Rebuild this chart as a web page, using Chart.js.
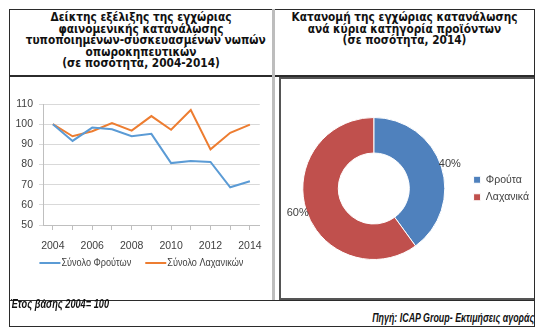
<!DOCTYPE html>
<html>
<head>
<meta charset="utf-8">
<script src="https://cdn.jsdelivr.net/npm/chart.js@4.4.1/dist/chart.umd.min.js"></script>
<style>
  html, body { margin: 0; padding: 0; background: #fff; }
  body { width: 543px; height: 331px; position: relative; overflow: hidden; }
  .ln { position: absolute; background: #2b2b2b; }
  .title {
    position: absolute; text-align: center; font-family: "DejaVu Sans", Verdana, sans-serif;
    font-weight: bold; font-size: 12px; line-height: 11.6px; color: #111;
    transform-origin: center top; white-space: nowrap;
  }
  .foot {
    position: absolute; font-family: "Liberation Sans", Arial, sans-serif;
    font-weight: bold; font-style: italic; font-size: 12.5px; line-height: 13px; color: #111; white-space: nowrap;
  }
  canvas { position: absolute; }
</style>
</head>
<body>
<!-- table frame -->
<div class="ln" style="left:9px; top:9px; width:526px; height:1px;"></div>
<div class="ln" style="left:9px; top:9px; width:1px; height:318px;"></div>
<div class="ln" style="left:534px; top:9px; width:1px; height:318px;"></div>
<div class="ln" style="left:9px; top:75px; width:526px; height:2px;"></div>
<div class="ln" style="left:9px; top:300px; width:526px; height:1px;"></div>
<div class="ln" style="left:9px; top:326px; width:526px; height:1px;"></div>
<div class="ln" style="left:272px; top:9px; width:3px; height:291px; background:#bdbdbd;"></div>
<!-- frame around the donut -->
<div class="ln" style="left:279px; top:77px; width:255px; height:2px; background:#555;"></div>
<div class="ln" style="left:279px; top:77px; width:2px; height:223px; background:#555;"></div>
<div class="ln" style="left:279px; top:298px; width:255px; height:2px; background:#555;"></div>

<div class="title" id="t1" style="left:10px; top:12px; width:262px;">Δείκτης εξέλιξης της εγχώριας<br>φαινομενικής κατανάλωσης<br>τυποποιημένων-συσκευασμένων νωπών<br>οπωροκηπευτικών<br>(σε ποσότητα, 2004-2014)</div>
<div class="title" id="t2" style="left:275px; top:12px; width:259px;">Κατανομή της εγχώριας κατανάλωσης<br>ανά κύρια κατηγορία προϊόντων<br>(σε ποσότητα, 2014)</div>

<canvas id="lineChart" width="262" height="220" style="left:10px; top:78px; width:262px; height:220px;"></canvas>
<canvas id="donutChart" width="258" height="219" style="left:281px; top:79px; width:258px; height:219px;"></canvas>

<div class="foot" id="f1" style="left:10px; top:298px; transform-origin:left top;">Έτος βάσης 2004= 100</div>
<div class="foot" id="f2" style="right:9px; top:312px; transform-origin:right top;">Πηγή: ICAP Group- Εκτιμήσεις αγοράς</div>

<script>
// index values, 2004 = 100
const years = ['2004', '2005', '2006', '2007', '2008', '2009', '2010', '2011', '2012', '2013', '2014'];
const fruits = [100, 91.7, 98.3, 97.5, 94, 95.2, 80.7, 81.7, 81.3, 68.7, 71.7];
const vegetables = [100, 94, 96.5, 100.5, 96.8, 104, 97.2, 107, 87.5, 95.7, 99.8];

// 2014 split
const categories = ['Φρούτα', 'Λαχανικά'];
const shares = [40, 60];

const fontFamily = '"Liberation Sans", Arial, sans-serif';
const tickFont = { family: fontFamily, size: 10.5 };

// squeeze text horizontally so the widest line is maxW px
function squeeze(id, maxW) {
  const el = document.getElementById(id);
  const cs = getComputedStyle(el);
  const span = document.createElement('span');
  span.style.cssText = 'position:absolute;visibility:hidden;white-space:nowrap';
  span.style.font = cs.font;
  document.body.appendChild(span);
  let widest = 0;
  el.innerHTML.split('<br>').forEach(line => {
    span.innerHTML = line;
    widest = Math.max(widest, span.getBoundingClientRect().width);
  });
  span.remove();
  el.style.transform = 'scaleX(' + (maxW / widest) + ')';
}
squeeze('t1', 240);
squeeze('t2', 226);
squeeze('f1', 99);
squeeze('f2', 162);

// one-row legend with short line samples under the plot
const lineLegend = {
  id: 'lineLegend',
  afterDraw(chart) {
    const { ctx, chartArea } = chart;
    const y = chartArea.bottom + 38;
    const sample = 21, gap = 1, spacing = 14, narrow = 0.83;
    ctx.save();
    ctx.font = '11px ' + fontFamily;
    const items = chart.data.datasets.map(ds => ({ ds, tw: ctx.measureText(ds.label).width * narrow }));
    items.forEach(it => { it.w = sample + gap + it.tw; });
    const total = items.reduce((s, it) => s + it.w, 0) + spacing * (items.length - 1);
    let x = (chartArea.left + chartArea.right) / 2 - total / 2 - 10;
    ctx.textBaseline = 'middle';
    items.forEach(it => {
      ctx.strokeStyle = it.ds.borderColor;
      ctx.lineWidth = it.ds.borderWidth;
      ctx.beginPath();
      ctx.moveTo(x, y);
      ctx.lineTo(x + sample, y);
      ctx.stroke();
      ctx.save();
      ctx.translate(x + sample + gap, y);
      ctx.scale(narrow, 1);
      ctx.fillStyle = '#404040';
      ctx.fillText(it.ds.label, 0, 0);
      ctx.restore();
      x += it.w + spacing;
    });
    ctx.restore();
  }
};

new Chart(document.getElementById('lineChart'), {
  type: 'line',
  data: {
    labels: years,
    datasets: [
      { label: 'Σύνολο Φρούτων', data: fruits, borderColor: '#5b9bd5', backgroundColor: '#5b9bd5', borderWidth: 2, pointRadius: 0, tension: 0 },
      { label: 'Σύνολο Λαχανικών', data: vegetables, borderColor: '#ed7d31', backgroundColor: '#ed7d31', borderWidth: 2, pointRadius: 0, tension: 0 }
    ]
  },
  options: {
    responsive: false,
    animation: false,
    layout: { padding: { top: 26, right: 9, left: 0, bottom: 47 } },
    plugins: {
      tooltip: { enabled: false },
      legend: { display: false }
    },
    scales: {
      x: {
        offset: true,
        grid: { drawOnChartArea: false, drawTicks: true, tickLength: 5, color: '#bfbfbf' },
        border: { color: '#bfbfbf' },
        ticks: {
          autoSkip: false, maxRotation: 0, color: '#404040', font: tickFont, padding: 10,
          callback: function (v, i) { return i % 2 === 0 ? this.getLabelForValue(v) : ''; }
        },
        afterFit: s => { s.height = 26; }
      },
      y: {
        min: 50, max: 110,
        ticks: { stepSize: 10, color: '#404040', font: tickFont, padding: 6 },
        grid: { color: '#d9d9d9', tickLength: 4 },
        border: { color: '#bfbfbf' },
        afterFit: s => { s.width = 33; }
      }
    }
  },
  plugins: [lineLegend]
});

// percentage labels just outside each slice
const sliceLabels = {
  id: 'sliceLabels',
  afterDatasetsDraw(chart) {
    const { ctx } = chart;
    const meta = chart.getDatasetMeta(0);
    ctx.save();
    ctx.font = '11px ' + fontFamily;
    ctx.fillStyle = '#404040';
    ctx.textAlign = 'center';
    ctx.textBaseline = 'middle';
    meta.data.forEach((arc, i) => {
      const mid = (arc.startAngle + arc.endAngle) / 2;
      const r = arc.outerRadius + 9;
      ctx.fillText(shares[i] + '%', arc.x + Math.cos(mid) * r, arc.y + Math.sin(mid) * r);
    });
    ctx.restore();
  }
};

new Chart(document.getElementById('donutChart'), {
  type: 'doughnut',
  data: {
    labels: categories,
    datasets: [{ data: shares, backgroundColor: ['#4f81bd', '#c0504d'], borderColor: '#fff', borderWidth: 1, radius: 71 }]
  },
  options: {
    responsive: false,
    animation: false,
    cutout: '50%',
    layout: { padding: { left: -3, top: 0, bottom: 0, right: 0 } },
    plugins: {
      tooltip: { enabled: false },
      legend: {
        position: 'right',
        labels: { boxWidth: 7, boxHeight: 7, font: { family: fontFamily, size: 10.5 }, color: '#404040', padding: 7 }
      }
    }
  },
  plugins: [sliceLabels]
});
</script>
</body>
</html>
